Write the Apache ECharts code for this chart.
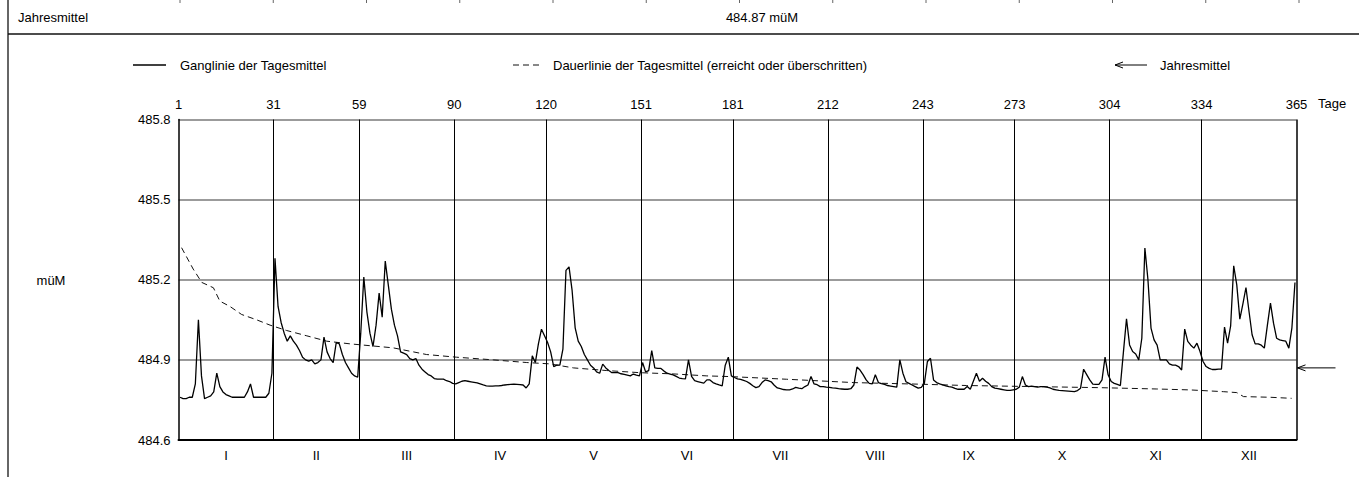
<!DOCTYPE html>
<html>
<head>
<meta charset="utf-8">
<script src="https://cdn.jsdelivr.net/npm/echarts@6/dist/echarts.min.js"></script>
<style>
  html, body { margin: 0; padding: 0; background: #fff; }
  #chart { width: 1359px; height: 477px; }
</style>
</head>
<body>
<div id="chart"></div>
<script>
// ---- data ----
const BASE = 484.6;               // axis minimum (müM)
const MEAN = 484.87;              // Jahresmittel
const jan = [484.76,484.755,484.755,484.76,484.76,484.81,485.05,484.84,484.755,484.76,484.765,484.78,484.85,484.80,484.78,484.77,484.765,484.76,484.76,484.76,484.76,484.76,484.78,484.81,484.76,484.76,484.76,484.76,484.76,484.775,484.85];
const feb = [485.28,485.10,485.04,485.00,484.97,484.99,484.97,484.955,484.935,484.91,484.90,484.895,484.90,484.885,484.89,484.90,484.985,484.93,484.905,484.89,484.965,484.96,484.92,484.89,484.87,484.85,484.84,484.835];
const mar = [485.00,485.21,485.08,485.00,484.95,485.03,485.15,485.06,485.27,485.18,485.09,485.03,484.99,484.93,484.925,484.92,484.905,484.90,484.905,484.88,484.865,484.855,484.845,484.84,484.83,484.828,484.828,484.828,484.822,484.819,484.812];
const apr = [484.81,484.815,484.82,484.822,484.82,484.818,484.816,484.814,484.81,484.806,484.803,484.802,484.802,484.803,484.803,484.804,484.806,484.807,484.808,484.809,484.808,484.807,484.806,484.795,484.81,484.915,484.89,484.96,485.015,484.99];
const may = [484.965,484.93,484.875,484.88,484.88,484.94,485.235,485.248,485.16,485.02,484.97,484.95,484.92,484.90,484.88,484.87,484.855,484.85,484.884,484.87,484.86,484.852,484.852,484.852,484.848,484.846,484.843,484.84,484.847,484.843,484.84];
const jun = [484.89,484.855,484.86,484.935,484.87,484.868,484.868,484.858,484.85,484.847,484.844,484.838,484.832,484.83,484.829,484.90,484.838,484.822,484.819,484.816,484.813,484.825,484.825,484.815,484.81,484.806,484.803,484.88,484.91,484.84];
const jul = [484.834,484.829,484.827,484.823,484.819,484.812,484.803,484.796,484.80,484.815,484.825,484.822,484.818,484.805,484.795,484.792,484.789,484.788,484.788,484.791,484.797,484.794,484.792,484.80,484.806,484.838,484.81,484.807,484.80,484.80,484.798];
const aug = [484.797,484.795,484.794,484.792,484.791,484.79,484.79,484.792,484.806,484.873,484.862,484.845,484.825,484.812,484.81,484.844,484.815,484.811,484.808,484.804,484.802,484.80,484.798,484.90,484.85,484.818,484.812,484.806,484.80,484.794,484.797];
const sep = [484.812,484.894,484.906,484.825,484.815,484.81,484.806,484.803,484.80,484.798,484.793,484.79,484.79,484.79,484.80,484.79,484.82,484.85,484.82,484.831,484.82,484.812,484.80,484.794,484.792,484.79,484.788,484.786,484.786,484.788];
const oct = [484.79,484.798,484.8375,484.806,484.80,484.802,484.80,484.798,484.80,484.80,484.798,484.795,484.79,484.788,484.786,484.785,484.784,484.783,484.782,484.781,484.785,484.794,484.865,484.845,484.825,484.809,484.808,484.808,484.825,484.91,484.844];
const nov = [484.819,484.812,484.808,484.804,484.93,485.054,484.956,484.931,484.922,484.90,484.981,485.319,485.20,485.019,484.975,484.955,484.90,484.90,484.90,484.885,484.88,484.88,484.875,484.862,485.015,484.969,484.955,484.944,484.9625,484.931];
const dec = [484.894,484.875,484.868,484.864,484.864,484.865,484.865,485.0225,484.9625,485.0275,485.2525,485.181,485.0525,485.11,485.171,485.081,484.994,484.96,484.96,484.955,484.944,485.03,485.1125,485.0375,484.981,484.975,484.9725,484.97,484.944,485.02,485.19];
const dailyLevels = [].concat(jan, feb, mar, apr, may, jun, jul, aug, sep, oct, nov, dec);

// duration curve (Dauerlinie), read at sample days
const durDays   = [1.5,5.3,8.1,11.9,14.0,17.3,21.1,26.0,30.4,35.8,42.4,48.9,56.5,70.6,81.5,91.3,103.3,114.2,121.8,129.4,140.3,151.2,162.0,173.0,180.5,199.0,220.8,242.4,257.8,279.6,301.1,319.9,330.8,341.6,346.0,348.2,356.9,363.9];
const durValues = [485.32,485.24,485.19,485.17,485.12,485.10,485.07,485.05,485.03,485.01,484.99,484.97,484.96,484.945,484.92,484.91,484.90,484.89,484.885,484.87,484.86,484.852,484.8475,484.84,484.8375,484.8275,484.815,484.809,484.804,484.80,484.796,484.791,484.7875,484.781,484.7775,484.7625,484.76,484.756];

const monthBounds = [0,31,59,90,120,151,181,212,243,273,304,334,365];
const monthNames  = ['I','II','III','IV','V','VI','VII','VIII','IX','X','XI','XII'];
const topTickLabels = ['1','31','59','90','120','151','181','212','243','273','304','334','365'];
const yTickLabels = ['484.6','484.9','485.2','485.5','485.8'];

// ---- build ----
const FONT = 'Liberation Sans, Arial, sans-serif';
const monthMids = monthNames.map((m, i) => (monthBounds[i] + monthBounds[i + 1]) / 2);
const gangData = dailyLevels.map((v, i) => [i + 0.5, +(v - BASE).toFixed(4)]);
const durData = durDays.map((d, i) => [d - 0.5, +(durValues[i] - BASE).toFixed(4)]);

const chart = echarts.init(document.getElementById('chart'), null, { renderer: 'svg' });

const option = {
  animation: false,
  backgroundColor: '#fff',
  textStyle: { fontFamily: FONT, color: '#000' },
  grid: { left: 178.5, right: 62.5, top: 119.5, bottom: 37, containLabel: false },
  xAxis: [
    {
      type: 'value', min: 0, max: 365, position: 'bottom',
      axisLine: { show: true, lineStyle: { color: '#000', width: 2 } },
      axisTick: { show: false },
      splitLine: { show: false },
      axisLabel: {
        customValues: monthMids,
        margin: 9, fontSize: 13, color: '#000', fontFamily: FONT,
        formatter: v => { const i = monthMids.findIndex(m => Math.abs(m - v) < 0.01); return i >= 0 ? monthNames[i] : ''; }
      }
    },
    {
      type: 'value', min: 0, max: 365, position: 'top',
      axisLine: { show: false },
      axisTick: { show: false },
      splitLine: { show: false },
      axisLabel: {
        customValues: monthBounds,
        margin: 9, fontSize: 13, color: '#000', fontFamily: FONT,
        formatter: v => { const i = monthBounds.findIndex(m => Math.abs(m - v) < 0.01); return i >= 0 ? topTickLabels[i] : ''; }
      }
    }
  ],
  yAxis: {
    type: 'value', min: 0, max: 1.2, interval: 0.3,
    axisLine: { show: true, lineStyle: { color: '#000', width: 1.5 } },
    axisTick: { show: false },
    splitLine: { show: true, lineStyle: { color: '#7a7a7a', width: 1.6 } },
    axisLabel: {
      margin: 8, fontSize: 13, color: '#000', fontFamily: FONT,
      formatter: v => { const i = Math.round(v / 0.3); return yTickLabels[i] || ''; }
    }
  },
  series: [
    {
      name: 'Ganglinie der Tagesmittel', type: 'line', data: gangData,
      showSymbol: false, symbol: 'none', silent: true,
      lineStyle: { color: '#000', width: 1.3 },
      markLine: {
        silent: true, symbol: ['none', 'none'], label: { show: false },
        lineStyle: { color: '#000', width: 1, type: 'solid' },
        data: monthBounds.slice(1, 12).map(b => ({ xAxis: b }))
          .concat([{ xAxis: 365, lineStyle: { color: '#000', width: 1.5, type: 'solid' } }])
      },
      z: 5
    },
    {
      name: 'Dauerlinie der Tagesmittel (erreicht oder überschritten)', type: 'line', data: durData,
      showSymbol: false, symbol: 'none', silent: true,
      lineStyle: { color: '#111', width: 1, type: [6, 4] },
      z: 4
    }
  ]
};
chart.setOption(option);

// frame, header, legend and mean arrow
const g = [];
function line(x1, y1, x2, y2, stroke, w, dash) {
  g.push({ type: 'line', shape: { x1, y1, x2, y2 }, style: { stroke, lineWidth: w, lineDash: dash || null }, silent: true });
}
function text(x, y, t, align) {
  g.push({ type: 'text', x, y, style: { text: t, fill: '#000', font: '13px ' + FONT, textAlign: align || 'left', textVerticalAlign: 'middle' }, silent: true });
}
// outer frame
line(8, 0, 8, 477, '#333', 1.5);
line(8, 34, 1359, 34, '#111', 1.5);
for (let k = 0; k <= 12; k++) { const x = 180 + 93.25 * k; line(x, 0, x, 3, '#666', 1); }
text(18, 17, 'Jahresmittel');
text(762, 17, MEAN.toFixed(2) + ' müM', 'center');
// legend
line(133, 65, 166, 65, '#000', 1.3);
text(180, 65, 'Ganglinie der Tagesmittel');
line(513, 65, 542, 65, '#111', 1, [6, 4]);
text(553, 65, 'Dauerlinie der Tagesmittel (erreicht oder überschritten)');
line(1115, 65, 1147, 65, '#000', 1);
g.push({ type: 'polyline', shape: { points: [[1123, 62], [1115, 65], [1123, 68]] }, style: { stroke: '#000', lineWidth: 1, fill: null }, silent: true });
text(1160, 65, 'Jahresmittel');
// axis captions
text(51, 280, 'müM', 'center');
text(1318, 103, 'Tage');
// mean arrow at the right edge
const p = chart.convertToPixel({ gridIndex: 0 }, [365, MEAN - BASE]);
line(p[0] + 1, p[1], p[0] + 39, p[1], '#000', 1);
g.push({ type: 'polyline', shape: { points: [[p[0] + 9, p[1] - 3], [p[0] + 1, p[1]], [p[0] + 9, p[1] + 3]] }, style: { stroke: '#000', lineWidth: 1, fill: null }, silent: true });

chart.setOption({ graphic: g });
</script>
</body>
</html>
